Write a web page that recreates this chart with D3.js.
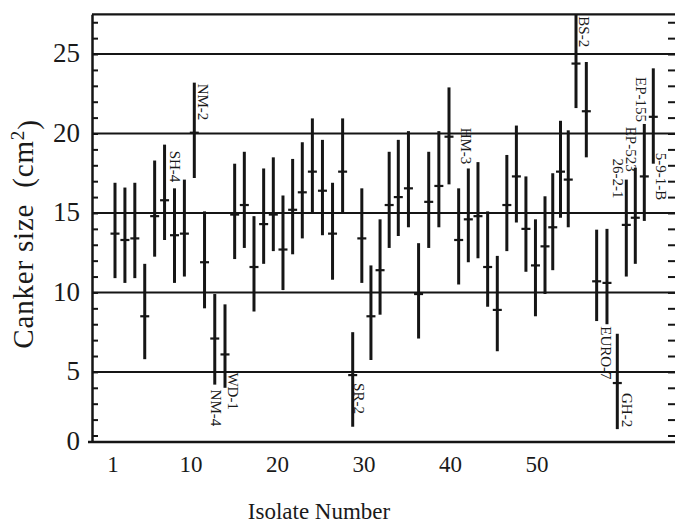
<!DOCTYPE html>
<html>
<head>
<meta charset="utf-8">
<script src="https://cdn.jsdelivr.net/npm/d3@7/dist/d3.min.js"></script>
<style>
  body { margin: 0; background: #fff; }
  text { font-family: "Liberation Serif", "DejaVu Serif", serif; fill: #1a1a1a; }
</style>
</head>
<body>
<script>
// canker size per isolate (mean, lower end, upper end of bar)
var isolates = d3.range(1, 58);
var means = [13.7, 13.3, 13.4, 8.5, 14.8, 15.8, 13.6, 13.7, 20.05, 11.9,
             7.1, 6.1, 14.9, 15.5, 11.6, 14.3, 14.9, 12.7, 15.2, 16.3,
             17.6, 16.4, 13.7, 17.6, 4.8, 13.4, 8.5, 11.4, 15.5, 16.0,
             16.55, 9.9, 15.7, 16.7, 19.8, 13.3, 14.6, 14.8, 11.6, 8.9,
             15.5, 17.3, 14.0, 11.7, 12.9, 14.1, 17.6, 17.1, 24.4, 21.4,
             10.7, 10.6, 4.3, 14.25, 14.7, 17.3, 21.05];
var lows  = [10.9, 10.6, 10.9, 5.8, 12.25, 13.3, 10.6, 11.0, 17.2, 9.0,
             4.2, 4.0, 12.1, 12.8, 8.8, 11.8, 12.6, 10.15, 12.4, 13.4,
             15.0, 13.6, 10.8, 15.0, 1.55, 10.6, 5.75, 8.6, 12.8, 13.55,
             14.1, 7.1, 12.8, 14.1, 16.8, 10.5, 11.9, 12.15, 9.1, 6.3,
             12.6, 14.4, 11.3, 8.5, 9.9, 11.4, 14.7, 14.1, 21.6, 18.5,
             8.2, 8.0, 1.4, 11.0, 11.8, 14.5, 18.1];
var highs = [16.9, 16.6, 16.9, 11.8, 18.3, 19.3, 16.55, 17.1, 23.2, 15.1,
             9.9, 9.25, 18.1, 18.85, 14.8, 17.8, 18.5, 16.1, 18.4, 19.45,
             20.95, 19.6, 16.9, 20.95, 7.5, 16.55, 11.7, 14.6, 18.85, 19.6,
             20.15, 13.1, 18.85, 20.15, 22.9, 16.55, 17.8, 18.2, 15.1, 12.3,
             18.65, 20.5, 17.3, 14.6, 16.05, 17.5, 20.8, 20.2, 27.5, 24.5,
             13.95, 14.0, 7.4, 17.1, 17.85, 20.6, 24.1];
var yTicks = [0, 5, 10, 15, 20, 25];
var xTickLabels = [1, 10, 20, 30, 40, 50];
var labelIdx  = [7, 9, 11, 12, 25, 35, 49, 52, 53, 54, 55, 56, 57];
var labelText = ["SH-4", "NM-2", "NM-4", "WD-1", "SR-2", "HM-3", "BS-2",
                 "EURO-7", "GH-2", "26-2-1", "EP-523", "EP-155", "5-9-1-B"];

var w = 675, h = 532;
var left = 92, right = 677;

var svg = d3.select("body").append("svg")
  .attr("width", w)
  .attr("height", h);

var y = d3.scaleLinear()
  .domain([0.59, 27.5])
  .range([442, 14.3])
  .clamp(true);

// bars in the printed figure are not evenly spaced, so piecewise scale
var x = d3.scaleLinear()
  .domain([1, 9, 12, 20, 25, 30, 35, 40, 45, 49, 53, 57])
  .range([115, 194.3, 225, 302.3, 352.7, 398.3, 449, 497.3, 545, 576, 617.3, 653.3]);

// the printed axis numbers do not line up with the bars in the original
var xLab = d3.scaleLinear()
  .domain([1, 50])
  .range([113, 537]);

var ink = "#151515";

// horizontal reference lines
svg.selectAll("line.grid")
  .data(yTicks.filter(function(d) { return d > 0; }))
  .enter()
  .append("line")
  .attr("class", "grid")
  .attr("x1", left).attr("x2", right)
  .attr("y1", function(d) { return y(d); })
  .attr("y2", function(d) { return y(d); })
  .attr("stroke", ink)
  .attr("stroke-width", 2);

// frame
svg.append("line")
  .attr("x1", left).attr("x2", right)
  .attr("y1", y.range()[1]).attr("y2", y.range()[1])
  .attr("stroke", ink).attr("stroke-width", 2.2);
svg.append("line")
  .attr("x1", left - 4).attr("x2", right)
  .attr("y1", y.range()[0]).attr("y2", y.range()[0])
  .attr("stroke", ink).attr("stroke-width", 2.5);

// minor ticks, left and right
var minor = d3.range(1, 28);
var yAxisL = d3.axisRight(y).tickValues(minor).tickSize(6).tickSizeOuter(0).tickFormat("");
var yAxisR = d3.axisLeft(y).tickValues(minor).tickSize(8).tickSizeOuter(0).tickFormat("");

svg.append("g")
  .attr("transform", "translate(" + left + ",0)")
  .call(yAxisL);
svg.append("g")
  .attr("transform", "translate(" + (right - 1) + ",0)")
  .call(yAxisR);
svg.selectAll(".domain").attr("stroke", ink).attr("stroke-width", 2.5);
svg.selectAll(".tick line").attr("stroke", ink).attr("stroke-width", 2);

// y tick labels
svg.selectAll("text.ylab")
  .data(yTicks)
  .enter()
  .append("text")
  .attr("class", "ylab")
  .attr("x", 80)
  .attr("y", function(d) { return y(d) - 1; })
  .attr("dy", "0.35em")
  .attr("text-anchor", "end")
  .attr("font-size", "27px")
  .text(function(d) { return d; });

// x tick labels
svg.selectAll("text.xlab")
  .data(xTickLabels)
  .enter()
  .append("text")
  .attr("class", "xlab")
  .attr("x", function(d) { return xLab(d); })
  .attr("y", 472)
  .attr("text-anchor", "middle")
  .attr("font-size", "23px")
  .text(function(d) { return d; });

// axis titles
svg.append("text")
  .attr("x", 319)
  .attr("y", 519)
  .attr("text-anchor", "middle")
  .attr("font-size", "23px")
  .text("Isolate Number");

var yt = svg.append("text")
  .attr("transform", "translate(33,234) rotate(-90)")
  .attr("text-anchor", "middle")
  .attr("letter-spacing", "0.8px")
  .attr("font-size", "29px");
yt.append("tspan").text("Canker size\u00a0\u00a0(cm");
yt.append("tspan").attr("dy", "-0.45em").attr("font-size", "19px").text("2");
yt.append("tspan").attr("dy", "0.45em").text(")");

// error bars
var bars = svg.selectAll("g.bar")
  .data(isolates)
  .enter()
  .append("g")
  .attr("class", "bar");

bars.append("line")
  .attr("x1", function(d) { return x(d); })
  .attr("x2", function(d) { return x(d); })
  .attr("y1", function(d, i) { return y(lows[i]); })
  .attr("y2", function(d, i) { return y(highs[i]); })
  .attr("stroke", ink)
  .attr("stroke-width", 3);

bars.append("line")
  .attr("x1", function(d) { return x(d) - 4.5; })
  .attr("x2", function(d) { return x(d) + 4.5; })
  .attr("y1", function(d, i) { return y(means[i]); })
  .attr("y2", function(d, i) { return y(means[i]); })
  .attr("stroke", ink)
  .attr("stroke-width", 2.2);

// isolate names, written downward beside / above / below their bar
var place = {
  "SH-4":    {ref: "high", dx: 1,  dy: -6, anchor: "end"},
  "NM-2":    {ref: "high", dx: 9,  dy: 1,  anchor: "start"},
  "NM-4":    {ref: "low",  dx: 1,  dy: 5,  anchor: "start"},
  "WD-1":    {ref: "mean", dx: 8,  dy: 18, anchor: "start"},
  "SR-2":    {ref: "mean", dx: 7,  dy: 8,  anchor: "start"},
  "HM-3":    {ref: "mean", dx: 17, dy: -9, anchor: "start"},
  "BS-2":    {ref: "high", dx: 8,  dy: 2,  anchor: "start"},
  "EURO-7":  {ref: "low",  dx: -1, dy: 2,  anchor: "start"},
  "GH-2":    {ref: "mean", dx: 10, dy: 10, anchor: "start"},
  "26-2-1":  {ref: "high", dx: -8, dy: 19, anchor: "end"},
  "EP-523":  {ref: "high", dx: -4, dy: 4,  anchor: "end"},
  "EP-155":  {ref: "high", dx: -3, dy: -2, anchor: "end"},
  "5-9-1-B": {ref: "mean", dx: 8,  dy: 36, anchor: "start"}
};

svg.selectAll("text.iso")
  .data(labelIdx)
  .enter()
  .append("text")
  .attr("class", "iso")
  .attr("transform", function(d, i) {
    var p = place[labelText[i]];
    var v = p.ref == "high" ? highs[d - 1] : (p.ref == "low" ? lows[d - 1] : means[d - 1]);
    return "translate(" + (x(d) + p.dx) + "," + (y(v) + p.dy) + ") rotate(90)";
  })
  .attr("dy", "0.35em")
  .attr("text-anchor", function(d, i) { return place[labelText[i]].anchor; })
  .attr("font-size", "15px")
  .text(function(d, i) { return labelText[i]; });
</script>
</body>
</html>
